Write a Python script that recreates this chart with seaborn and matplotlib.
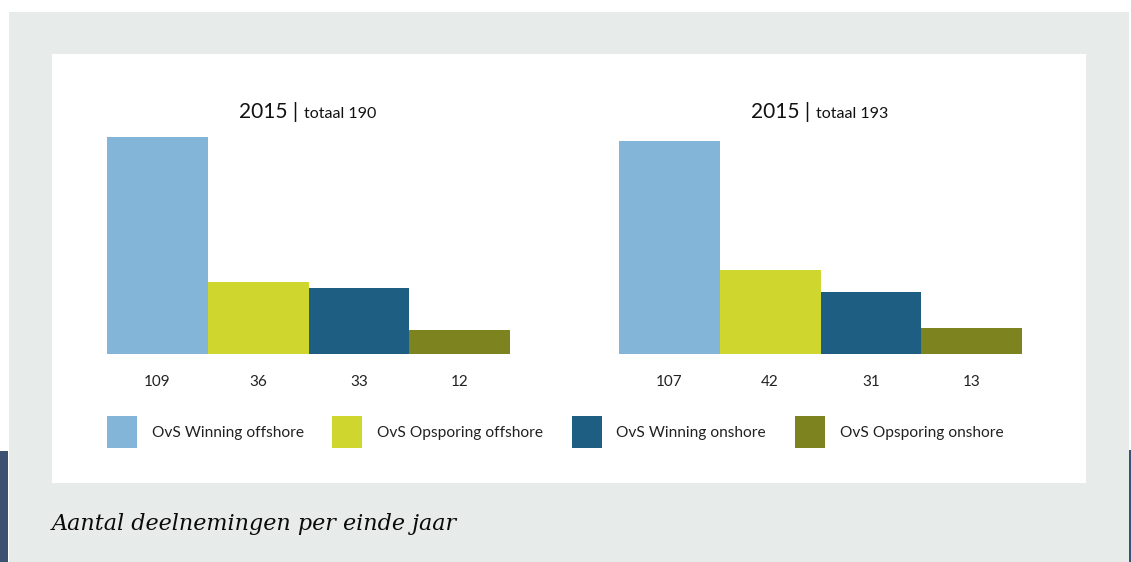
import matplotlib.pyplot as plt
import seaborn as sns
import pandas as pd
from matplotlib.patches import Rectangle, Patch

# data
categories = ["OvS Winning offshore", "OvS Opsporing offshore",
              "OvS Winning onshore", "OvS Opsporing onshore"]
years = ["2015", "2015"]
totals = [190, 193]
values_left = [109, 36, 33, 12]
values_right = [107, 42, 31, 13]
colors = ["#82b5d8", "#cfd72e", "#1d5e82", "#7d831f"]

sns.set_style("white")
plt.rcParams['font.family'] = ['Lato', 'DejaVu Sans']

W, H = 1131, 562
fig = plt.figure(figsize=(W / 100, H / 100), dpi=100)
fig.patch.set_facecolor("white")

def fx(px):
    return px / W

def fy(py):
    return 1 - py / H

# background panels
fig.add_artist(Rectangle((fx(9), 0), fx(1129 - 9), fy(12), transform=fig.transFigure,
                         facecolor="#e7ebea", edgecolor="none", zorder=0))
fig.add_artist(Rectangle((fx(52), fy(483)), fx(1086 - 52), (483 - 54) / H,
                         transform=fig.transFigure, facecolor="white", edgecolor="none", zorder=0))
fig.add_artist(Rectangle((0, 0), fx(8), fy(451), transform=fig.transFigure,
                         facecolor="#3b5273", edgecolor="none", zorder=1))
fig.add_artist(Rectangle((fx(1129), 0), fx(2), fy(450), transform=fig.transFigure,
                         facecolor="#3b5273", edgecolor="none", zorder=1))

panels = [(107, values_left, years[0], totals[0]),
          (619, values_right, years[1], totals[1])]

for left, vals, year, total in panels:
    ax = fig.add_axes([fx(left), fy(354), fx(403), (354 - 137) / H])
    df = pd.DataFrame({"cat": categories, "val": vals})
    sns.barplot(data=df, x="cat", y="val", hue="cat", palette=colors,
                width=1.0, legend=False, ax=ax, saturation=1, linewidth=0)
    ax.set_xlim(-0.5, 3.5)
    ax.set_ylim(0, 109)
    ax.set_facecolor("none")
    for s in ax.spines.values():
        s.set_visible(False)
    ax.set_yticks([])
    ax.set_xlabel("")
    ax.set_ylabel("")
    ax.set_xticks(range(4))
    ax.set_xticklabels([str(v) for v in vals], fontsize=11, color="#222222")
    ax.tick_params(axis="x", length=0, pad=15)
    # title: big year, small total
    ax.annotate(f"{year} |", xy=(0.5, 1), xycoords="axes fraction",
                xytext=(-10, 25), textcoords="offset pixels",
                ha="right", va="center", fontsize=15, color="#111111")
    ax.annotate(f"totaal {total}", xy=(0.5, 1), xycoords="axes fraction",
                xytext=(-4, 23), textcoords="offset pixels",
                ha="left", va="center", fontsize=11.5, color="#111111")

handles = [Patch(facecolor=c, edgecolor="none", label=l) for c, l in zip(colors, categories)]
fig.legend(handles=handles, loc="center left", bbox_to_anchor=(fx(107), fy(432)),
           ncol=4, frameon=False, fontsize=11.2, handlelength=1.92, handleheight=2.72,
           handletextpad=0.95, columnspacing=1.85, borderpad=0, borderaxespad=0,
           labelcolor="#222222")

fig.text(fx(52), fy(524), "Aantal deelnemingen per einde jaar", fontsize=16,
         style="italic", family=["DejaVu Serif"], color="#0a0a0a", va="center", ha="left")

fig.savefig("out.png", dpi=100, facecolor="white")
